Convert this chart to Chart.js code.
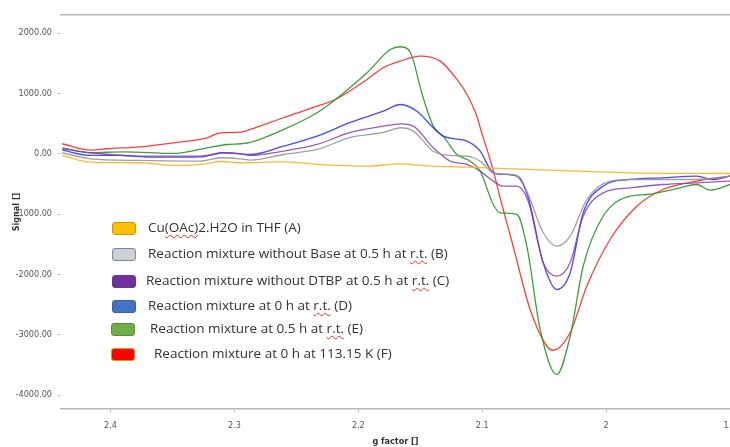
<!DOCTYPE html>
<html>
<head>
<meta charset="utf-8">
<script src="https://cdn.jsdelivr.net/npm/chart.js@4.4.0/dist/chart.umd.min.js"></script>
<style>
  body { margin: 0; background: #fff; }
  #wrap { position: relative; width: 730px; height: 447px; }
  #legend { position: absolute; left: 0; top: 0; font-family: 'Open Sans', sans-serif; font-size: 13.5px; color: #333; }
  .item { position: absolute; white-space: nowrap; }
  .box { position: absolute; width: 22px; height: 11px; border-radius: 3px; border: 1px solid; }
  .txt { position: absolute; line-height: 15px; }
  .sp { text-decoration: underline wavy #e03030; text-decoration-thickness: 1px; text-underline-offset: 2px; }
</style>
</head>
<body>
<div id="wrap">
  <canvas id="epr" width="730" height="447"></canvas>
  <div id="legend"></div>
</div>
<script>
const gA = [2.439, 2.4161, 2.3758, 2.3492, 2.3274, 2.3113, 2.2952, 2.2605, 2.2333, 2.193, 2.1661, 2.1395, 2.1123, 2.0855, 2.0629, 1.9806, 1.9];
const sigA = [-28, -139, -149, -194, -177, -128, -149, -133, -177, -206, -166, -206, -222, -243, -260, -315, -327];

const gB = [2.439, 2.4161, 2.3758, 2.3274, 2.3113, 2.2952, 2.2871, 2.2605, 2.2333, 2.2065, 2.1798, 2.1661, 2.1556, 2.1395, 2.1258, 2.1123, 2.1016, 2.0911, 2.0774, 2.0694, 2.0629, 2.0508, 2.0398, 2.029, 2.0156, 1.9968, 1.9806, 1.954, 1.9269, 1.9];
const sigB = [17, -83, -111, -123, -66, -83, -106, -12, 71, 270, 353, 431, 375, 43, -28, -40, -123, -315, -343, -398, -675, -1305, -1532, -1366, -758, -454, -426, -426, -426, -371];

const gC = [2.439, 2.4161, 2.3758, 2.3274, 2.3089, 2.2952, 2.2871, 2.2605, 2.2333, 2.2065, 2.1798, 2.1661, 2.1556, 2.1395, 2.1258, 2.1123, 2.1016, 2.0911, 2.0831, 2.072, 2.0629, 2.0508, 2.0398, 2.029, 2.0185, 2.0024, 1.9806, 1.954, 1.9269, 1.9];
const sigC = [83, 17, -40, -40, 17, 0, -28, 43, 154, 353, 458, 497, 458, 99, -123, -177, -288, -454, -537, -537, -786, -1802, -2029, -1802, -1035, -647, -564, -509, -481, -454];

const gD = [2.439, 2.4161, 2.3895, 2.3677, 2.3274, 2.3089, 2.2952, 2.2871, 2.2605, 2.2333, 2.2065, 2.1798, 2.1661, 2.1527, 2.1395, 2.1315, 2.1123, 2.1016, 2.0911, 2.0801, 2.072, 2.0629, 2.0508, 2.0398, 2.029, 2.0185, 2.0024, 1.9806, 1.954, 1.9269, 1.9137, 1.9];
const sigD = [60, -28, -28, -56, -50, 17, 0, -12, 126, 292, 519, 706, 817, 706, 431, 292, 209, 43, -315, -343, -371, -725, -1807, -2250, -1973, -978, -537, -426, -398, -371, -426, -371];

const gE = [2.439, 2.4161, 2.3895, 2.3492, 2.322, 2.3059, 2.2952, 2.2871, 2.2605, 2.2333, 2.2185, 2.193, 2.1742, 2.1661, 2.1597, 2.1567, 2.1484, 2.1395, 2.1315, 2.1204, 2.1097, 2.1016, 2.0911, 2.0855, 2.072, 2.064, 2.0532, 2.0398, 2.029, 2.0185, 2.0024, 1.9806, 1.9672, 1.9403, 1.9269, 1.9161, 1.9];
const sigE = [99, 17, 33, 5, 99, 154, 166, 187, 400, 680, 900, 1343, 1729, 1774, 1729, 1618, 980, 458, 292, -12, -123, -288, -840, -978, -1006, -1532, -2913, -3659, -3024, -1864, -1035, -703, -675, -564, -509, -603, -509];

const gF = [2.439, 2.4161, 2.4027, 2.3758, 2.3492, 2.322, 2.3113, 2.2952, 2.2871, 2.2605, 2.2333, 2.2185, 2.193, 2.1798, 2.1661, 2.15, 2.1339, 2.1204, 2.1123, 2.1043, 2.1016, 2.0915, 2.0841, 2.075, 2.0613, 2.0478, 2.0427, 2.029, 2.0156, 1.9968, 1.9752, 1.954, 1.9269, 1.9];
const sigF = [166, 60, 83, 116, 182, 265, 348, 358, 403, 597, 789, 900, 1232, 1426, 1535, 1618, 1535, 1232, 983, 623, 431, -245, -841, -1532, -2582, -3190, -3256, -2963, -2195, -1421, -869, -592, -454, -371];

const seriesLabels = [
    'Cu(OAc)2.H2O in THF (A)',
    'Reaction mixture without Base at 0.5 h at r.t. (B)',
    'Reaction mixture without DTBP at 0.5 h at r.t. (C)',
    'Reaction mixture at 0 h at r.t. (D)',
    'Reaction mixture at 0.5 h at r.t. (E)',
    'Reaction mixture at 0 h at 113.15 K (F)'
];
const xTicks = [2.4, 2.3, 2.2, 2.1, 2.0, 1.9];
const yTicks = [2000, 1000, 0, -1000, -2000, -3000, -4000];

// couleurs des courbes et des pastilles de légende
const lineColors = ['rgba(255,176,30,0.9)', 'rgba(150,150,150,0.9)', 'rgba(140,60,170,0.85)', 'rgba(40,40,255,0.85)', 'rgba(40,150,40,0.9)', 'rgba(255,40,40,0.9)'];
const boxFill = ['#ffc000', '#d0d0d0', '#7030a0', '#4472c4', '#70ad47', '#ff0000'];
const boxBorder = ['#c99a00', '#6f88b5', '#5b3a8c', '#3a5e9e', '#5a8c3a', '#d9a000'];

function toPoints(g, s) {
    return g.map((v, i) => ({ x: v, y: s[i] }));
}

const allSeries = [[gA, sigA], [gB, sigB], [gC, sigC], [gD, sigD], [gE, sigE], [gF, sigF]];

const tickFont = { family: "'DejaVu Sans Condensed', sans-serif", size: 9 };
const titleFont = { family: "'DejaVu Sans Condensed', sans-serif", size: 9, weight: 'bold' };

const chart = new Chart(document.getElementById('epr'), {
    type: 'line',
    data: {
        datasets: allSeries.map((s, i) => ({
            label: seriesLabels[i],
            data: toPoints(s[0], s[1]),
            borderColor: lineColors[i],
            borderWidth: 1.3,
            pointRadius: 0,
            fill: false,
            cubicInterpolationMode: 'monotone'
        }))
    },
    options: {
        responsive: false,
        animation: false,
        layout: { padding: 0 },
        plugins: { legend: { display: false }, tooltip: { enabled: false } },
        scales: {
            x: {
                type: 'linear',
                reverse: true,
                min: 1.9,
                max: 2.44,
                afterBuildTicks: s => { s.ticks = xTicks.map(v => ({ value: v })); },
                afterFit: s => { s.height = 38; s.paddingLeft = 0; s.paddingRight = 0; },
                border: { display: true, color: '#b8b8b8', width: 1.5 },
                grid: { drawOnChartArea: false, tickLength: 4, color: '#c8c8c8' },
                ticks: { font: tickFont, color: '#555', padding: 7, maxRotation: 0, callback: v => String(v) },
                title: { display: true, text: 'g factor []', font: titleFont, color: '#333', padding: { top: 0, bottom: 0 } }
            },
            x2: {
                type: 'linear',
                position: 'top',
                min: 1.9,
                max: 2.44,
                afterFit: s => { s.height = 15; s.paddingLeft = 0; s.paddingRight = 0; },
                border: { display: true, color: '#b8b8b8', width: 1.5 },
                grid: { display: false },
                ticks: { display: false }
            },
            y: {
                min: -4230,
                max: 2300,
                afterBuildTicks: s => { s.ticks = yTicks.map(v => ({ value: v })); },
                afterFit: s => { s.width = 61; },
                border: { display: false },
                grid: { drawOnChartArea: false, tickLength: 4, color: '#c8c8c8' },
                ticks: { font: tickFont, color: '#555', padding: 5, callback: v => v.toFixed(2) },
                title: { display: true, text: 'Signal []', font: titleFont, color: '#333', padding: { top: 11, bottom: 0 } }
            }
        }
    }
});

// légende dessinée par-dessus le graphique
const legendRows = [228, 254, 281, 306, 329, 354];
const boxX = [112, 112, 112, 112, 111, 111];
const textX = [148, 148, 146, 148, 150, 154];
const legend = document.getElementById('legend');
seriesLabels.forEach((label, i) => {
    const item = document.createElement('div');
    item.className = 'item';
    const box = document.createElement('div');
    box.className = 'box';
    box.style.left = boxX[i] + 'px';
    box.style.top = (legendRows[i] - 6) + 'px';
    box.style.background = boxFill[i];
    box.style.borderColor = boxBorder[i];
    const txt = document.createElement('div');
    txt.className = 'txt';
    txt.style.left = textX[i] + 'px';
    txt.style.top = (legendRows[i] - 8) + 'px';
    txt.innerHTML = label.replace('(OAc)', '<span class="sp">(OAc)</span>').replace('r.t.', '<span class="sp">r.t.</span>');
    item.appendChild(box);
    item.appendChild(txt);
    legend.appendChild(item);
});
</script>
</body>
</html>
